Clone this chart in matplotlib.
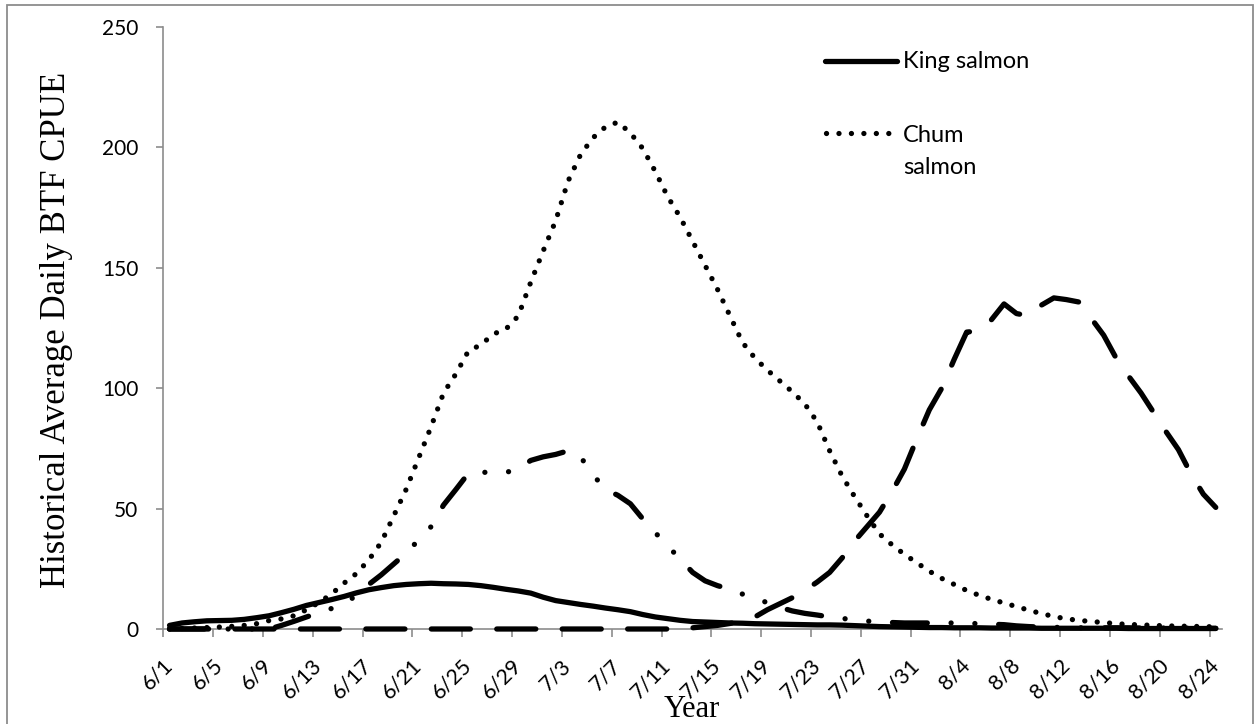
import matplotlib
matplotlib.use("Agg")
import matplotlib.pyplot as plt
from matplotlib.lines import Line2D
from matplotlib.patches import Rectangle
import numpy as np

plt.rcParams['font.family'] = ['Lato', 'DejaVu Sans']

# daily categories 6/1 ... 8/24 (85 days), labelled every 4th day
tick_labels = ["6/1", "6/5", "6/9", "6/13", "6/17", "6/21", "6/25", "6/29",
               "7/3", "7/7", "7/11", "7/15", "7/19", "7/23", "7/27", "7/31",
               "8/4", "8/8", "8/12", "8/16", "8/20", "8/24"]

king = [1.5, 2.5, 3.0, 3.4, 3.5, 3.6, 4.0, 4.7, 5.5, 6.8,
        8.2, 9.8, 11.0, 12.2, 13.5, 15.0, 16.3, 17.2, 18.0, 18.5,
        18.8, 19.0, 18.8, 18.7, 18.5, 18.0, 17.3, 16.5, 15.8, 14.9,
        13.2, 11.8, 11.0, 10.2, 9.5, 8.7, 8.0, 7.2, 6.0, 5.0,
        4.3, 3.6, 3.1, 2.9, 2.7, 2.5, 2.4, 2.2, 2.1, 2.0,
        1.9, 1.8, 1.7, 1.7, 1.6, 1.4, 1.2, 1.0, 0.9, 0.8,
        0.7, 0.6, 0.6, 0.5, 0.5, 0.5, 0.4, 0.4, 0.4, 0.4,
        0.3, 0.3, 0.3, 0.3, 0.3, 0.3, 0.3, 0.2, 0.2, 0.2,
        0.2, 0.2, 0.2, 0.2, 0.2]

chum = [0.0, 0.2, 0.4, 0.6, 0.8, 1.1, 1.5, 2.2, 3.5, 4.2,
        5.5, 8.0, 11.0, 14.5, 19.0, 23.0, 28.7, 36.0, 47.0, 58.0,
        71.0, 84.0, 98.0, 106.0, 115.5, 118.0, 122.5, 124.5, 130.0, 144.0,
        157.0, 169.5, 186.0, 197.0, 204.0, 208.5, 210.5, 206.0, 199.5, 190.0,
        179.5, 171.0, 161.0, 151.0, 141.0, 130.0, 119.0, 112.5, 107.5, 103.0,
        98.5, 93.5, 86.0, 74.0, 63.5, 55.0, 47.0, 39.5, 35.0, 31.0,
        27.5, 24.0, 21.0, 18.5, 16.0, 14.0, 12.3, 10.8, 9.3, 7.8,
        6.4, 5.2, 4.2, 3.6, 3.1, 2.7, 2.2, 1.9, 1.7, 1.5,
        1.3, 1.2, 1.1, 1.0, 0.9]

dash_dot = [0, 0, 0, 0, 0, 0, 0, 0, 0, 1.5,
            3.2, 5.0, 6.8, 8.5, 10.3, 14.0, 18.5, 22.5, 27.0, 31.5,
            37.0, 42.5, 51.5, 58.0, 64.7, 65.0, 65.2, 65.0, 66.5, 70.0,
            71.5, 72.5, 74.0, 71.5, 64.0, 58.0, 55.5, 52.0, 45.7, 40.0,
            34.5, 29.0, 23.5, 20.0, 18.0, 16.5, 14.5, 12.5, 11.0, 9.0,
            7.5, 6.5, 5.8, 5.0, 4.4, 3.8, 3.3, 2.9, 2.7, 2.5,
            2.5, 2.5, 2.5, 2.5, 2.4, 2.2, 2.0, 1.8, 1.3, 1.0,
            0.8, 0.7, 0.6, 0.5, 0.5, 0.5, 0.5, 0.5, 0.4, 0.4,
            0.4, 0.4, 0.3, 0.3, 0.3]

long_dash = [0] * 42 + [
    0.5, 1.0, 1.5, 2.3, 3.5, 5.0, 8.0, 10.5,
    13.0, 16.0, 19.5, 23.5, 29.5, 36.5, 42.5, 48.5, 57.0, 66.4,
    79.0, 91.0, 100.0, 112.0, 123.3, 123.8, 128.5, 135.0, 131.0, 130.0,
    134.5, 137.5, 136.8, 135.8, 129.0, 122.0, 112.5, 105.0, 98.0, 90.0,
    82.0, 74.5, 64.5, 56.0, 50.5]

W, H = 1255, 724
gray = "#8c8c8c"
lw = 3.8
dotted = (0, (0.01, 2.35))
dashdot = (0, (6.6, 4.5, 0.01, 4.5, 0.01, 4.5))
longdash = (0, (7.4, 5.0))
style = dict(color="black", lw=lw, solid_capstyle="round", dash_capstyle="round",
             solid_joinstyle="round", dash_joinstyle="round")

fig = plt.figure(figsize=(W / 100, H / 100), dpi=100)
ax = fig.add_axes([163.3 / W, 1 - 629 / H, (1222 - 163.3) / W, (629 - 27) / H])

x = np.arange(len(king))
ax.plot(x, long_dash, linestyle=longdash, clip_on=False, **style)
ax.plot(x, dash_dot, linestyle=dashdot, clip_on=False, **style)
ax.plot(x, chum, linestyle=dotted, clip_on=False, **style)
ax.plot(x, king, linestyle="-", clip_on=False, **style)

ax.set_xlim(-0.5, len(king) - 0.5)
ax.set_ylim(0, 250)
ax.set_yticks(np.arange(0, 251, 50))
ax.tick_params(axis="y", length=5.4, width=1.2, color=gray, pad=12.5, labelsize=15)

# tick marks between categories, labels on the categories
ax.set_xticks(np.arange(-0.5, len(king) - 1, 4))
ax.set_xticklabels([])
ax.set_xticks(np.arange(0, len(king), 4), minor=True)
ax.set_xticklabels(tick_labels, minor=True, rotation=45, ha="right", va="center",
                   rotation_mode="anchor")
ax.tick_params(axis="x", which="major", length=5.4, width=1.2, color=gray)
ax.tick_params(axis="x", which="minor", length=0, pad=24, labelsize=15.5)

for s in ["top", "right"]:
    ax.spines[s].set_visible(False)
for s in ["left", "bottom"]:
    ax.spines[s].set_color(gray)
    ax.spines[s].set_linewidth(1.2)
    ax.spines[s].set_zorder(0.5)

serif = "Liberation Serif"
fig.text(57 / W, 1 - 330 / H, "Historical Average Daily BTF CPUE", rotation=90,
         ha="center", va="center", fontsize=25, family=serif)
fig.text(692 / W, 1 - 717 / H, "Year", ha="center", va="baseline", fontsize=22, family=serif)

# legend (only two entries are visible in the original)
fig.add_artist(Line2D([825 / W, 897 / W], [1 - 61 / H, 1 - 61 / H], linestyle="-", **style))
fig.text(903 / W, 1 - 62 / H, "King salmon", va="center", fontsize=17)
fig.add_artist(Line2D([826 / W, 892 / W], [1 - 133 / H, 1 - 133 / H], linestyle=dotted, **style))
fig.text(903 / W, 1 - 141.7 / H, "Chum", va="baseline", fontsize=17)
fig.text(903 / W, 1 - 174 / H, "salmon", va="baseline", fontsize=17)

# chart border
fig.add_artist(Rectangle((7 / W, -0.05), 1246 / W, 1.05 - 5 / H, transform=fig.transFigure,
                         fill=False, edgecolor=gray, lw=1.3))

fig.savefig("out.png", dpi=100)
